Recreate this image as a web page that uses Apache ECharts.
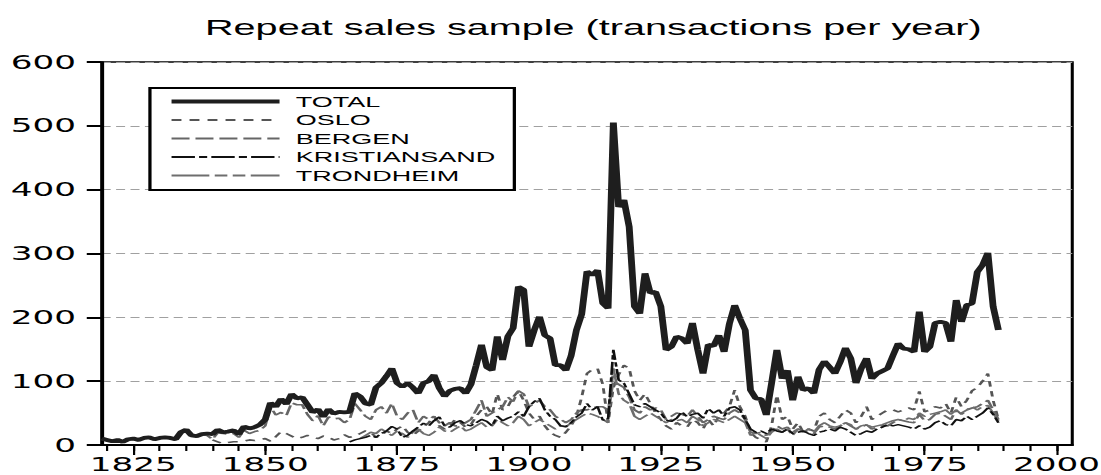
<!DOCTYPE html>
<html>
<head>
<meta charset="utf-8">
<script src="https://cdn.jsdelivr.net/npm/echarts@6/dist/echarts.min.js"></script>
<style>
  html, body { margin: 0; padding: 0; background: #fff; overflow: hidden; }
  /* the reference graph is stretched sideways, so draw narrow and widen it */
  #chart { width: 611.67px; height: 475px; transform: scaleX(1.8); transform-origin: 0 0; }
</style>
</head>
<body>
<div id="chart"></div>
<script>
// transactions per year, one value per year from the start year
const totalStart = 1819
const total = [
  10, 8, 6, 8, 5, 9, 10, 8, 11, 12,
  9, 11, 12, 11, 9, 20, 24, 15, 14, 17,
  18, 17, 24, 20, 21, 23, 17, 29, 26, 28,
  32, 40, 66, 60, 72, 64, 80, 73, 75, 63,
  51, 56, 44, 56, 49, 52, 51, 52, 81, 76,
  65, 63, 90, 97, 108, 120, 97, 91, 97, 90,
  81, 97, 100, 110, 89, 76, 85, 88, 89, 81,
  95, 125, 157, 122, 117, 170, 133, 170, 183, 248,
  243, 154, 180, 201, 172, 167, 125, 125, 117, 140,
  180, 205, 272, 266, 274, 222, 214, 505, 373, 384,
  342, 217, 206, 269, 238, 240, 217, 149, 154, 170,
  167, 159, 191, 149, 112, 157, 155, 172, 146, 190,
  219, 198, 180, 86, 73, 72, 47, 97, 149, 104,
  117, 70, 107, 86, 89, 81, 118, 131, 122, 112,
  130, 152, 136, 97, 120, 136, 104, 112, 116, 120,
  140, 159, 151, 150, 146, 209, 146, 154, 191, 193,
  191, 162, 227, 193, 219, 222, 271, 282, 301, 217, 180]

const osloStart = 1840
const oslo = [
  8, 5, 2, 4, 5, 5, 6, 8, 7, 9,
  10, 6, 13, 21, 18, 14, 10, 12, 15, 13,
  10, 14, 12, 8, 10, 16, 12, 14, 18, 22,
  20, 12, 15, 22, 18, 25, 30, 20, 15, 22,
  28, 35, 45, 30, 25, 30, 40, 35, 28, 32,
  45, 55, 60, 48, 80, 55, 60, 75, 85, 70,
  50, 40, 45, 30, 20, 15, 12, 20, 30, 45,
  75, 112, 118, 120, 95, 35, 90, 110, 125, 120,
  85, 70, 80, 65, 50, 40, 30, 25, 35, 30,
  28, 40, 35, 25, 40, 30, 45, 50, 60, 86,
  60, 45, 20, 12, 8, 5, 30, 78, 40, 45,
  25, 35, 20, 25, 22, 45, 50, 40, 35, 45,
  55, 50, 35, 45, 60, 40, 45, 50, 55, 55,
  52, 55, 58, 55, 84, 52, 55, 60, 58, 65,
  50, 75, 60, 70, 85, 90, 100, 112, 70, 40]

const bergenStart = 1819
const bergen = [
  9, 7, 5, 7, 4, 8, 9, 7, 10, 11,
  8, 10, 11, 10, 8, 19, 23, 14, 13, 16,
  15, 9, 19, 18, 17, 18, 12, 23, 18, 21,
  23, 30, 60, 47, 51, 46, 66, 63, 63, 48,
  38, 46, 30, 44, 41, 42, 35, 40, 65, 55,
  45, 40, 55, 60, 50, 65, 45, 40, 50, 55,
  35, 45, 40, 45, 35, 30, 35, 30, 30, 35,
  40, 55, 70, 45, 50, 55, 60, 75, 68, 85,
  80, 60, 65, 70, 60, 55, 45, 40, 35, 40,
  50, 55, 55, 58, 60, 60, 55, 100, 95, 90,
  75, 55, 50, 60, 55, 58, 55, 40, 45, 50,
  48, 45, 55, 45, 35, 40, 45, 42, 40, 50,
  55, 50, 40, 20, 18, 20, 15, 22, 30, 25,
  28, 20, 25, 22, 20, 18, 28, 30, 28, 25,
  30, 35, 30, 25, 28, 32, 25, 28, 30, 30,
  35, 40, 38, 36, 35, 48, 38, 40, 48, 50,
  45, 40, 55, 48, 55, 58, 60, 65, 70, 55, 40]

const kristiansandStart = 1866
const kristiansand = [
  5, 8, 10, 12, 15, 12, 18, 22, 29, 25,
  12, 15, 22, 28, 34, 30, 38, 44, 30, 28,
  35, 38, 32, 30, 35, 40, 37, 30, 45, 38,
  42, 45, 52, 45, 60, 68, 73, 55, 45, 40,
  30, 29, 35, 44, 50, 65, 55, 60, 39, 40,
  149, 102, 97, 80, 63, 60, 65, 60, 55, 50,
  39, 37, 42, 52, 44, 48, 50, 42, 57, 50,
  55, 45, 58, 60, 55, 40, 25, 20, 22, 18,
  25, 22, 20, 25, 18, 20, 22, 18, 15, 20,
  22, 25, 22, 28, 25, 20, 15, 18, 22, 20,
  25, 28, 32, 30, 32, 30, 28, 25, 30, 25,
  28, 35, 38, 32, 30, 40, 38, 45, 40, 45,
  50, 58, 48, 35]

const trondheimStart = 1868
const trondheim = [
  10, 15, 20, 18, 25, 20, 15, 22, 18, 12,
  20, 25, 18, 15, 20, 28, 22, 20, 25, 30,
  22, 25, 30, 35, 28, 30, 40, 35, 30, 35,
  45, 40, 30, 35, 40, 35, 30, 25, 30, 28,
  35, 40, 45, 50, 48, 45, 40, 35, 120, 80,
  70, 65, 45, 40, 45, 50, 45, 40, 35, 40,
  38, 40, 35, 45, 40, 30, 35, 40, 38, 35,
  40, 45, 40, 35, 15, 20, 15, 10, 20, 25,
  20, 25, 15, 25, 20, 25, 20, 30, 35, 30,
  28, 30, 35, 32, 25, 30, 32, 28, 30, 32,
  35, 38, 40, 38, 42, 40, 50, 45, 48, 50,
  52, 55, 48, 55, 50, 55, 60, 55, 60, 62,
  50, 38]

const labelYears = [1825, 1850, 1875, 1900, 1925, 1950, 1975, 2000]
const tickYears = []
for (let y = 1820; y <= 2000; y += 5) tickYears.push(y)

const pairs = (start, vals) => vals.map((v, i) => [start + i, v])

const chart = echarts.init(document.getElementById('chart'), null, { renderer: 'svg' })

const axisFont = { fontFamily: 'DejaVu Sans', fontSize: 19, color: '#000' }
const line = (name, start, vals, color, width, type, z) => ({
  name: name,
  type: 'line',
  data: pairs(start, vals),
  symbol: 'none',
  z: z,
  lineStyle: { color: color, width: width, type: type },
  itemStyle: { color: color }
})

chart.setOption({
  animation: false,
  backgroundColor: '#fff',
  title: {
    text: 'Repeat sales sample (transactions per year)',
    left: 113.9,
    top: 16,
    padding: 0,
    textStyle: { fontFamily: 'Liberation Sans, Arial', fontSize: 22, fontWeight: 'normal', color: '#000' }
  },
  legend: {
    orient: 'vertical',
    left: 83.3,
    top: 88,
    padding: [6, 10.6, 7, 10],
    backgroundColor: '#fff',
    borderColor: '#000',
    borderWidth: 1.8,
    borderRadius: 0,
    itemWidth: 60,
    itemHeight: 14,
    itemGap: 3.5,
    itemStyle: { opacity: 0 },
    textStyle: { fontFamily: 'Liberation Sans, Arial', fontSize: 15, lineHeight: 14, color: '#000', padding: [0, 0, 0, 4] },
    data: [
      { name: 'TOTAL', lineStyle: { width: 4 } },
      { name: 'OSLO', lineStyle: { width: 1.8 } },
      { name: 'BERGEN', lineStyle: { width: 1.8 } },
      { name: 'KRISTIANSAND', lineStyle: { width: 1.8 } },
      { name: 'TRONDHEIM', lineStyle: { width: 1.8 } }
    ]
  },
  grid: {
    left: 56.5, right: 16.3, top: 62, bottom: 30,
    show: true, borderColor: '#000', borderWidth: 1.7,
    containLabel: false, outerBoundsMode: 'none'
  },
  xAxis: [{
    type: 'value', min: 1819, max: 2003, position: 'bottom',
    axisLine: { lineStyle: { color: '#000', width: 2 } },
    axisTick: { customValues: tickYears, length: 6, lineStyle: { color: '#000', width: 1.2 } },
    axisLabel: Object.assign({
      customValues: labelYears, margin: 11, lineHeight: 16,
      formatter: v => String(v)
    }, axisFont),
    splitLine: { show: false }
  }, {
    type: 'value', min: 1819, max: 2003, position: 'bottom',
    axisLine: { show: false },
    axisTick: { customValues: labelYears, length: 10, lineStyle: { color: '#000', width: 1.2 } },
    axisLabel: { show: false },
    splitLine: { show: false }
  }],
  yAxis: {
    type: 'value', min: 0, max: 600, interval: 100,
    axisLine: { show: true, lineStyle: { color: '#000', width: 1.7 } },
    axisTick: { show: true, length: 8.3, lineStyle: { color: '#000', width: 2 } },
    axisLabel: Object.assign({ margin: 14.3, padding: [0, 0, 5, 0] }, axisFont),
    splitLine: { lineStyle: { color: '#a0a0a0', width: 1, type: [5, 3] } }
  },
  series: [
    line('TOTAL', totalStart, total, '#1e1e1e', 3.8, 'solid', 5),
    line('OSLO', osloStart, oslo, '#555', 1.6, [5.5, 4.5], 3),
    line('BERGEN', bergenStart, bergen, '#666', 1.6, [10, 3.3], 3),
    line('KRISTIANSAND', kristiansandStart, kristiansand, '#111', 1.5, [13, 2.3, 4.5, 2.3], 4),
    line('TRONDHEIM', trondheimStart, trondheim, '#6e6e6e', 1.5, [21, 3, 7, 3, 7, 3], 3)
  ]
})
</script>
</body>
</html>
